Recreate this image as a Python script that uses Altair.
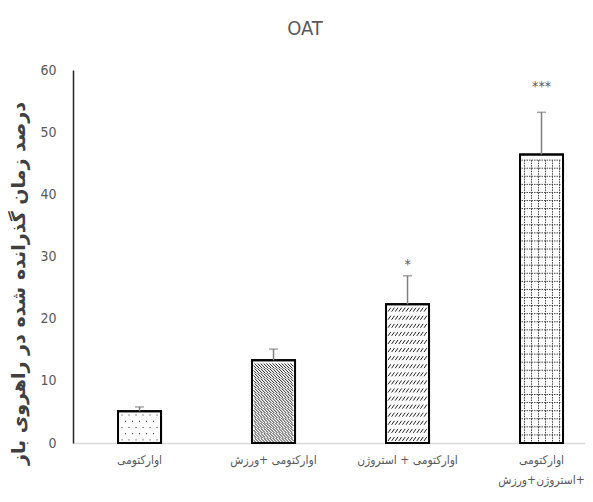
import altair as alt
import pandas as pd
import numpy as np

categories = [
    "اوارکتومی",
    "اوارکتومی +ورزش",
    "اوارکتومی + استروژن",
    "اوارکتومی\nاستروژن+ورزش+",
]
means = [5.1, 13.3, 22.3, 46.4]
sds = [0.7, 1.8, 4.6, 6.8]
stars = ["", "", "*", "***"]
star_pos = [None, None, 28.6, 57.2]

df = pd.DataFrame({"cat": categories, "mean": means, "sd": sds, "star": stars, "star_y": star_pos})
df["upper"] = df["mean"] + df["sd"]

# ---- fill textures (style only): one custom symbol path per texture row ----
U = 22.0      # half side of the symbol box in px (size = (2U)^2)
HW = 20.0     # half inner width of a bar in px
PX_PER_UNIT = 373 / 60


def seg(x1, y1, x2, y2):
    return f"M{x1 / U:.3f},{y1 / U:.3f}L{x2 / U:.3f},{y2 / U:.3f}"


def diag(x1, y1, x2, y2):
    # clip a segment to |x| <= HW
    if x2 == x1:
        return seg(x1, y1, x2, y2)
    def at(x):
        return y1 + (y2 - y1) * (x - x1) / (x2 - x1)
    a, b = max(x1, -HW), min(x2, HW)
    if b <= a:
        return ""
    return seg(a, at(a), b, at(b))


def dots_row(shift):
    return "".join(seg(x, 0, x + 1.0, 0) for x in np.arange(-HW + 2 + shift, HW - 1, 7.0))


def back_row(h):
    return "".join(diag(x, -h / 2, x + h, h / 2) for x in np.arange(-HW - h, HW, 3.0))


def slash_row(h):
    return "".join(diag(x, h / 2, x + h * 0.7, -h / 2) for x in np.arange(-HW + 0.5, HW, 3.6))


def grid_row(h):
    p = "".join(seg(x, -h / 2, x, h / 2) for x in np.arange(-HW + 3, HW, 7.0))
    return p + seg(-HW, -h / 2, HW, -h / 2)


tex_step = [1.0, 0.8, 1.3, 1.3]
rows = []
for i, (c, m, st) in enumerate(zip(categories, means, tex_step)):
    hpx = st * PX_PER_UNIT
    k = 0
    y = st / 2
    while y + st / 2 <= m + 1e-6:
        if i == 0:
            path = dots_row(3.5 if k % 2 else 0.0)
        elif i == 1:
            path = back_row(hpx)
        elif i == 2:
            path = slash_row(4.0)
        else:
            path = grid_row(hpx)
        rows.append({"cat": c, "y": float(y), "path": path, "grid": i == 3})
        y += st
        k += 1
tex = pd.DataFrame(rows)

xscale = alt.Scale(domain=categories, paddingInner=0.679, paddingOuter=0.25, align=0.672)
xenc = alt.X("cat:N", sort=categories, scale=xscale, title=None,
             axis=alt.Axis(labelAngle=0, ticks=False, labelPadding=11, labelFontSize=12,
                           labelColor="#595959", labelFont="DejaVu Sans Condensed",
                           labelExpr="split(datum.label, '\\n')", labelLineHeight=20,
                           domainColor="#d9d9d9", domainWidth=1.5, labelBaseline="top"))
yscale = alt.Scale(domain=[0, 60], nice=False)
xs = alt.X("cat:N", sort=categories, scale=xscale)

bars = alt.Chart(df).mark_bar(fill="white", stroke="black", strokeWidth=2).encode(
    x=xenc,
    y=alt.Y("mean:Q", scale=yscale,
            title="درصد زمان گذرانده شده در راهروی باز",
            axis=alt.Axis(values=[0, 10, 20, 30, 40, 50, 60], ticks=False, grid=False,
                          domainColor="#262626", domainWidth=1.5, labelPadding=17,
                          labelFontSize=14, labelColor="#595959",
                          labelFont="Liberation Sans Narrow, DejaVu Sans Condensed, sans-serif",
                          titleFont="DejaVu Sans", titleFontWeight="bold",
                          titleFontSize=19, titleColor="#404040",
                          titleX=-55, titleY=213, titleAlign="center", titleBaseline="middle")),
)

tex_plain = alt.Chart(tex).transform_filter("!datum.grid").mark_point(
    filled=False, color="#222222", strokeWidth=1, opacity=1, size=(2 * U) ** 2).encode(
    x=xs, y=alt.Y("y:Q", scale=yscale), shape=alt.Shape("path:N", scale=None))

tex_grid = alt.Chart(tex).transform_filter("datum.grid").mark_point(
    filled=False, color="#444444", strokeWidth=1, opacity=1, size=(2 * U) ** 2,
    strokeDash=[1.5, 1]).encode(
    x=xs, y=alt.Y("y:Q", scale=yscale), shape=alt.Shape("path:N", scale=None))

outline = alt.Chart(df).mark_bar(fill=None, stroke="black", strokeWidth=2).encode(
    x=xs, y=alt.Y("mean:Q", scale=yscale))

err = alt.Chart(df).mark_rule(color="#7f7f7f", strokeWidth=1.5).encode(
    x=xs, y=alt.Y("mean:Q", scale=yscale), y2="upper:Q")
caps = alt.Chart(df).mark_tick(color="#7f7f7f", size=9, thickness=1.5).encode(
    x=xs, y=alt.Y("upper:Q", scale=yscale))
starmarks = alt.Chart(df).transform_filter("datum.star != ''").mark_text(
    fontSize=14, color="#595959", baseline="middle",
    font="Liberation Sans Narrow, DejaVu Sans Condensed, sans-serif").encode(
    x=xs, y=alt.Y("star_y:Q", scale=yscale), text="star:N")

chart = alt.layer(bars, tex_plain, tex_grid, outline, err, caps, starmarks).properties(
    width=512, height=373,
    title=alt.TitleParams("OAT", fontSize=20, color="#595959", fontWeight="normal",
                          font="Liberation Sans Narrow, DejaVu Sans Condensed, sans-serif",
                          anchor="middle", dx=-24, offset=24),
    autosize=alt.AutoSizeParams(type="none"),
    padding={"left": 65, "top": 62, "right": 0, "bottom": 51},
).configure_view(stroke=None)

chart.save("out.html", embed_options={"renderer": "svg", "actions": False})
